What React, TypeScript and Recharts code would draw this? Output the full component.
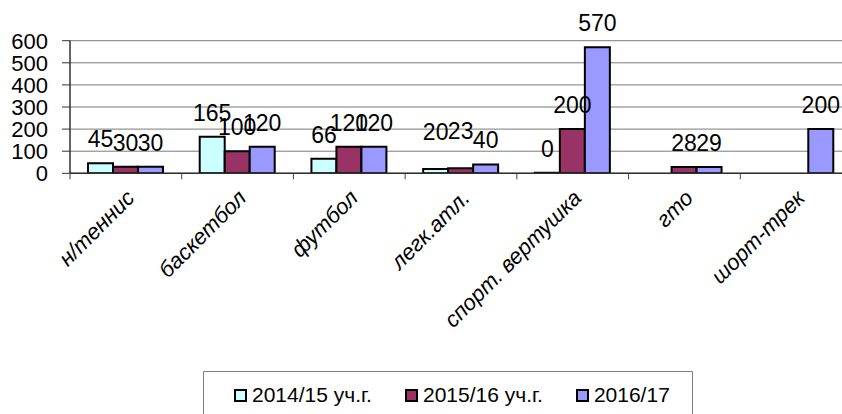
import { BarChart, Bar, XAxis, YAxis, CartesianGrid, LabelList } from 'recharts';

const categories = ['н/теннис', 'баскетбол', 'футбол', 'легк.атл.', 'спорт. вертушка', 'гто', 'шорт-трек'];
const season1415 = [45, 165, 66, 20, 0, null, null];
const season1516 = [30, 100, 120, 23, 200, 28, null];
const season1617 = [30, 120, 120, 40, 570, 29, 200];
const seriesNames = ['2014/15 уч.г.', '2015/16 уч.г.', '2016/17'];
const seriesColors = ['#CCFFFF', '#993366', '#9999FF'];
const yTicks = [0, 100, 200, 300, 400, 500, 600];

const FONT = '"Liberation Sans", Arial, sans-serif';
const CHART_W = 860;
const CHART_H = 414;
const MARGIN = { top: 40.7, right: 8, left: 0, bottom: 180.7 };
const Y_AXIS_W = 70;
const X_AXIS_H = 60;
const BAND = (CHART_W - MARGIN.left - MARGIN.right - Y_AXIS_W) / categories.length;

const data = categories.map((name, i) => ({
  name,
  s1: season1415[i],
  s2: season1516[i],
  s3: season1617[i],
}));

// labels that sit higher than the rest in the original
const raisedLabels = ['легк.атл.:s1', 'легк.атл.:s2'];

const CategoryTick = (props: any) => {
  const { x, y, payload } = props;
  return (
    <g>
      <line x1={x - BAND / 2} y1={y} x2={x - BAND / 2} y2={y + 6} stroke="#404040" strokeWidth={1} />
      <text
        transform={`translate(${x + 10},${y + 26}) rotate(-45)`}
        textAnchor="end"
        fontSize={22}
        fontStyle="italic"
        fontFamily={FONT}
        fill="#000"
      >
        {payload.value}
      </text>
    </g>
  );
};

const makeLabel = (key: string) => (props: any) => {
  const { x, y, width, value, index } = props;
  if (value === null || value === undefined) return null;
  const lift = raisedLabels.includes(`${categories[index]}:${key}`) ? 13 : 0;
  return (
    <text
      x={x + width / 2}
      y={y - 16 - lift}
      textAnchor="middle"
      fontSize={23}
      fontFamily={FONT}
      fill="#000"
    >
      {value}
    </text>
  );
};

// zero values still need a (flat) bar so their "0" label is drawn
const zeroMin = (value: any) => (value === 0 ? 0.5 : 0);

const keys = ['s1', 's2', 's3'];

const App = () => {
  return (
    <div
      style={{
        position: 'fixed',
        left: 0,
        top: 0,
        width: 842,
        height: 414,
        overflow: 'hidden',
        background: '#fff',
        fontFamily: FONT,
      }}
    >
      <BarChart
        width={CHART_W}
        height={CHART_H}
        data={data}
        margin={MARGIN}
        barCategoryGap={18}
        barGap={0}
      >
        <CartesianGrid vertical={false} stroke="#7a7a7a" strokeWidth={1} />
        <XAxis
          dataKey="name"
          height={X_AXIS_H}
          axisLine={{ stroke: '#303030', strokeWidth: 1.5 }}
          tickLine={false}
          tickSize={0}
          tickMargin={0}
          interval={0}
          tick={(p: any) => <CategoryTick {...p} />}
        />
        <YAxis
          width={Y_AXIS_W}
          domain={[0, 600]}
          ticks={yTicks}
          interval={0}
          allowDataOverflow
          axisLine={{ stroke: '#303030', strokeWidth: 1.5 }}
          tickLine={{ stroke: '#303030' }}
          tickSize={8}
          tickMargin={14}
          tick={{ fontSize: 22, fill: '#000', fontFamily: FONT }}
        />
        {keys.map((k, i) => (
          <Bar
            key={k}
            dataKey={k}
            name={seriesNames[i]}
            fill={seriesColors[i]}
            stroke="#000"
            strokeWidth={2}
            minPointSize={zeroMin}
            isAnimationActive={false}
          >
            <LabelList dataKey={k} content={makeLabel(k)} />
          </Bar>
        ))}
      </BarChart>

      {/* Legend box */}
      <div
        style={{
          position: 'absolute',
          left: 203,
          top: 371,
          width: 490,
          height: 60,
          border: '1.5px solid #808080',
          boxSizing: 'border-box',
          paddingLeft: 30,
          paddingTop: 11,
          display: 'flex',
          alignItems: 'flex-start',
          gap: 33,
          fontSize: 21,
          lineHeight: '24px',
          color: '#000',
        }}
      >
        {seriesNames.map((n, i) => (
          <div key={n} style={{ display: 'flex', alignItems: 'center', whiteSpace: 'nowrap' }}>
            <span
              style={{
                display: 'inline-block',
                width: 9,
                height: 9,
                border: '2px solid #000',
                background: seriesColors[i],
                marginRight: 5,
              }}
            />
            {n}
          </div>
        ))}
      </div>
    </div>
  );
};

export default App;
